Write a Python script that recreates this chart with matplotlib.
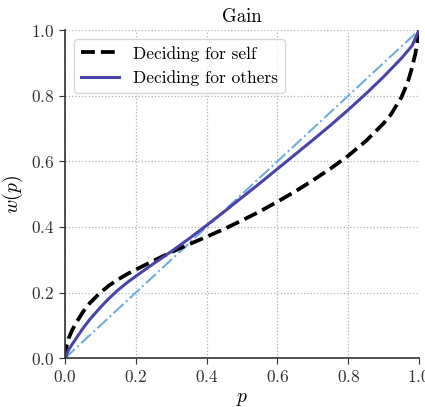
import matplotlib
matplotlib.use("Agg")
import matplotlib.pyplot as plt

# global plot configuration
plt.rcParams["font.family"] = "serif"
plt.rcParams["font.serif"] = ["cmr10"]
plt.rcParams["mathtext.fontset"] = "cm"
plt.rcParams["axes.formatter.use_mathtext"] = True

# probability weighting
p_self = [0.0, 0.005, 0.01, 0.02, 0.03, 0.05, 0.07, 0.1, 0.125, 0.15, 0.175, 0.2,
          0.25, 0.3, 0.35, 0.4, 0.45, 0.5, 0.55, 0.6, 0.65, 0.7, 0.75, 0.8, 0.85,
          0.9, 0.92, 0.95, 0.96, 0.97, 0.98, 0.99, 1.0]
w_self = [0.0, 0.04, 0.06, 0.085, 0.105, 0.14, 0.168, 0.2, 0.222, 0.24, 0.256, 0.27,
          0.297, 0.323, 0.347, 0.37, 0.394, 0.42, 0.447, 0.477, 0.508, 0.542, 0.578,
          0.617, 0.662, 0.716, 0.742, 0.795, 0.82, 0.848, 0.885, 0.93, 1.0]

p_others = [0.0, 0.01, 0.02, 0.03, 0.05, 0.07, 0.1, 0.125, 0.15, 0.175, 0.2, 0.25,
            0.3, 0.35, 0.4, 0.45, 0.5, 0.55, 0.6, 0.65, 0.7, 0.75, 0.8, 0.85, 0.9,
            0.95, 0.98, 1.0]
w_others = [0.0, 0.025, 0.042, 0.058, 0.09, 0.118, 0.155, 0.183, 0.208, 0.23, 0.25,
            0.288, 0.325, 0.364, 0.405, 0.447, 0.49, 0.533, 0.577, 0.621, 0.665,
            0.71, 0.757, 0.806, 0.858, 0.914, 0.952, 1.0]

p_diag = [0.0, 1.0]

fig = plt.figure(figsize=(4.25, 4.07), dpi=100)
ax = fig.add_axes([0.153, 0.12, 0.833, 0.806])

ax.plot(p_diag, p_diag, color="#6DAEDF", linestyle="-.", linewidth=1.5)
ax.plot(p_self, w_self, color="black", linestyle="--", linewidth=2.7,
        label="Deciding for self")
ax.plot(p_others, w_others, color="#4B44A8", linewidth=2.2,
        label="Deciding for others")

ax.set_xlim(0, 1)
ax.set_ylim(0, 1)
ax.set_xticks([0.0, 0.2, 0.4, 0.6, 0.8, 1.0])
ax.set_yticks([0.0, 0.2, 0.4, 0.6, 0.8, 1.0])
ax.grid(True, linestyle=":", color="#b0b0b0", linewidth=0.9)
ax.spines["top"].set_visible(False)
ax.spines["right"].set_visible(False)
for s in ["left", "bottom"]:
    ax.spines[s].set_color("#333333")
    ax.spines[s].set_linewidth(1.2)
ax.tick_params(labelsize=12.5, length=4, color="#333333", labelcolor="#333333")

ax.set_title("Gain", fontsize=13.5)
ax.set_xlabel(r"$p$", fontsize=14)
ax.set_ylabel(r"$w(p)$", fontsize=14)
ax.legend(loc="upper left", fontsize=12.5, handlelength=2.2)

fig.savefig("out.png", dpi=100)
